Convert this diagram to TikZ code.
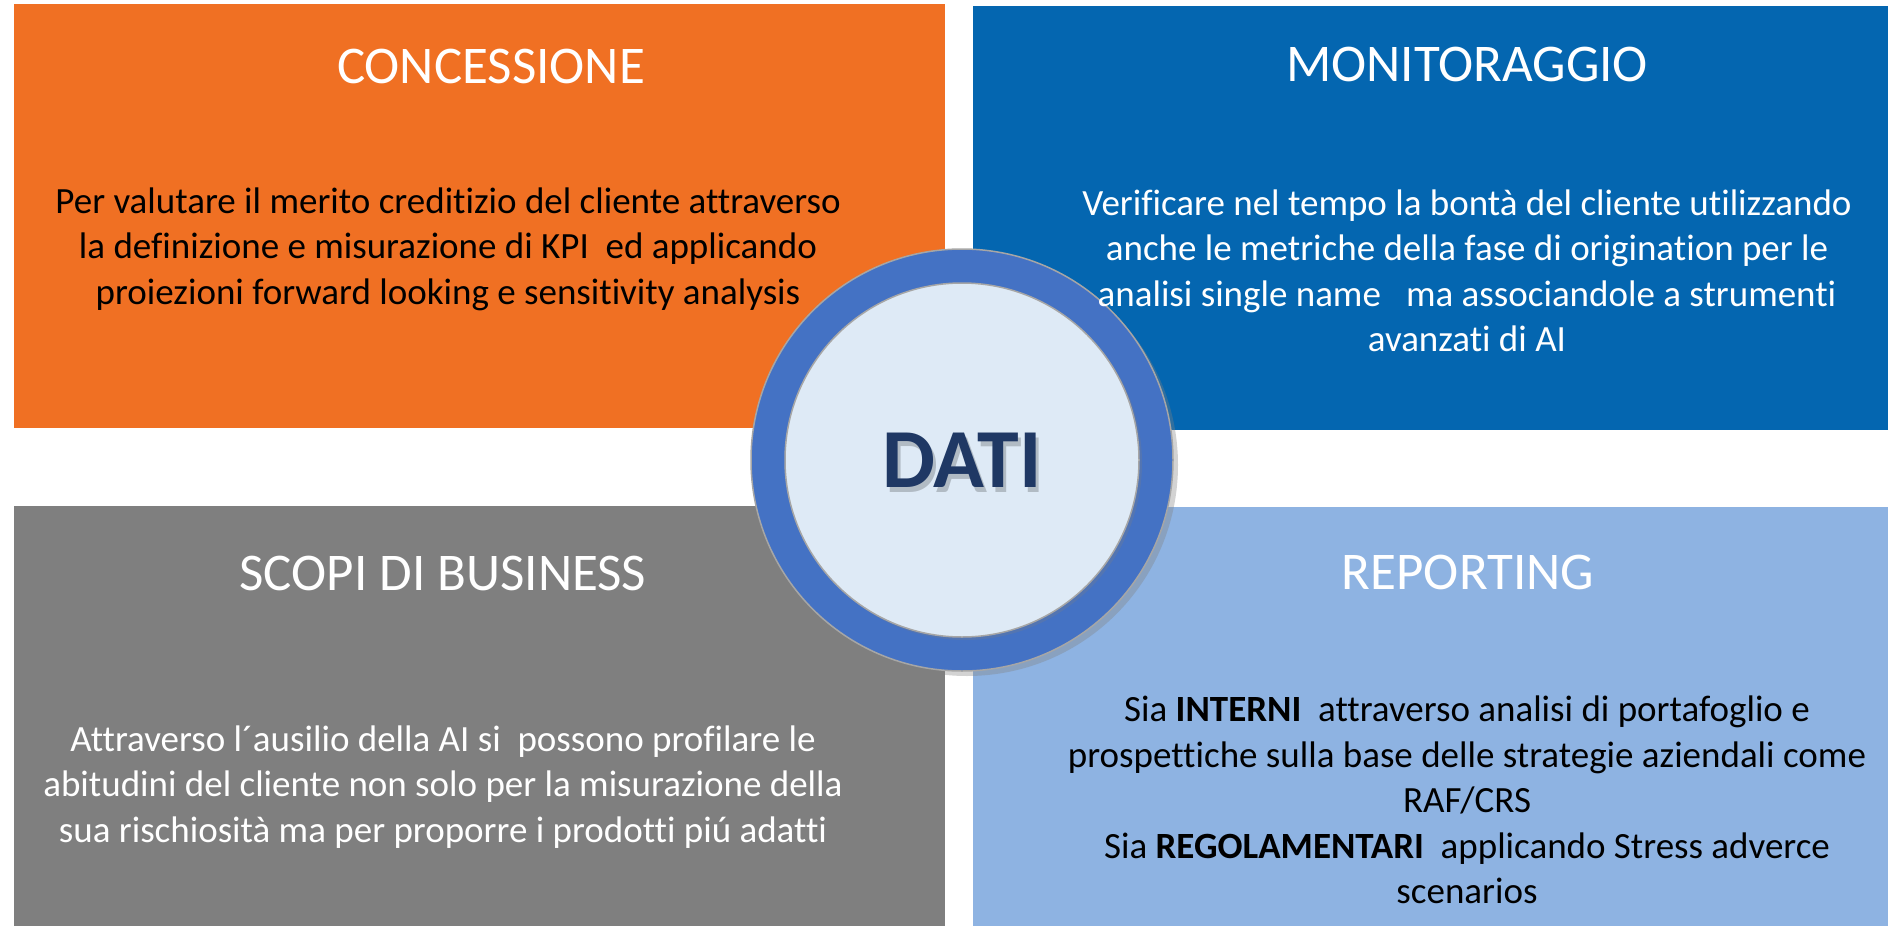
\documentclass[tikz,border=0pt]{standalone}
\usepackage{fontspec}
\setmainfont{Carlito}[Ligatures={TeX,NoCommon}]
\usetikzlibrary{shadows}

\definecolor{concorange}{RGB}{240,112,35}
\definecolor{monblue}{RGB}{4,102,176}
\definecolor{scopigray}{RGB}{127,127,127}
\definecolor{replight}{RGB}{142,179,226}
\definecolor{ringblue}{RGB}{68,114,196}
\definecolor{coreblue}{RGB}{222,234,246}
\definecolor{datinavy}{RGB}{31,56,100}

\begin{document}
\begin{tikzpicture}[x=1pt, y=-1pt,
  panel/.style={anchor=north west, inner sep=0pt, minimum width=#1},
  title/.style={text=white, font=\fontsize{53}{63}\selectfont},
  body/.style={align=center, font=\fontsize{37}{45.5}\selectfont}]
  \useasboundingbox (0,0) rectangle (1888,926);
  \coordinate (c) at (962,460);

  \node [panel=931pt, minimum height=424pt, fill=concorange] (conc) at (14,4) {};
  \node [panel=915pt, minimum height=424pt, fill=monblue] (mon) at (973,6) {};
  \node [panel=931pt, minimum height=420pt, fill=scopigray] (scopi) at (14,506) {};
  \node [panel=915pt, minimum height=419pt, fill=replight] (rep) at (973,507) {};

  \node [title] (conctitle) at (491,66) {CONCESSIONE};
  \node [title] (montitle) at (1467,64) {MONITORAGGIO};
  \node [title] (scopititle) at (443,573) {SCOPI DI BUSINESS};
  \node [title] (reptitle) at (1468,572) {REPORTING};

  \node [circle, minimum size=422pt, fill=ringblue, draw=black!35, line width=1.5pt,
    drop shadow={shadow xshift=5pt, shadow yshift=-5pt, opacity=0.35}] (ring) at (c) {};
  \node [circle, minimum size=354pt, fill=coreblue, draw=black!35, line width=1.5pt,
    drop shadow={shadow xshift=3pt, shadow yshift=-3pt, opacity=0.25}] (core) at (c) {};
  \node [text=black, opacity=0.2, font=\fontsize{84}{96}\selectfont\bfseries] at ([shift={(3,5)}]c) {DATI};
  \node [text=datinavy, font=\fontsize{84}{96}\selectfont\bfseries] (dati) at (c) {DATI};

  \node [body, text=black] (concbody) at (448,249) {Per valutare il merito creditizio del cliente attraverso\\
    la definizione e misurazione di KPI\ \ ed applicando\\
    proiezioni forward looking e sensitivity analysis};
  \node [body, text=white] (monbody) at (1467,271) {Verificare nel tempo la bontà del cliente utilizzando\\
    anche le metriche della fase di origination per le\\
    analisi single name\ \ \ ma associandole a strumenti\\
    avanzati di AI};
  \node [body, text=white] (scopibody) at (443,787) {Attraverso l´ausilio della AI si\ \ possono profilare le\\
    abitudini del cliente non solo per la misurazione della\\
    sua rischiosità ma per proporre i prodotti piú adatti};
  \node [body, text=black] (repbody) at (1467,800) {Sia \textbf{INTERNI}\ \ attraverso analisi di portafoglio e\\
    prospettiche sulla base delle strategie aziendali come\\
    RAF/CRS\\
    Sia \textbf{REGOLAMENTARI}\ \ applicando Stress adverce\\
    scenarios};
\end{tikzpicture}
\end{document}
